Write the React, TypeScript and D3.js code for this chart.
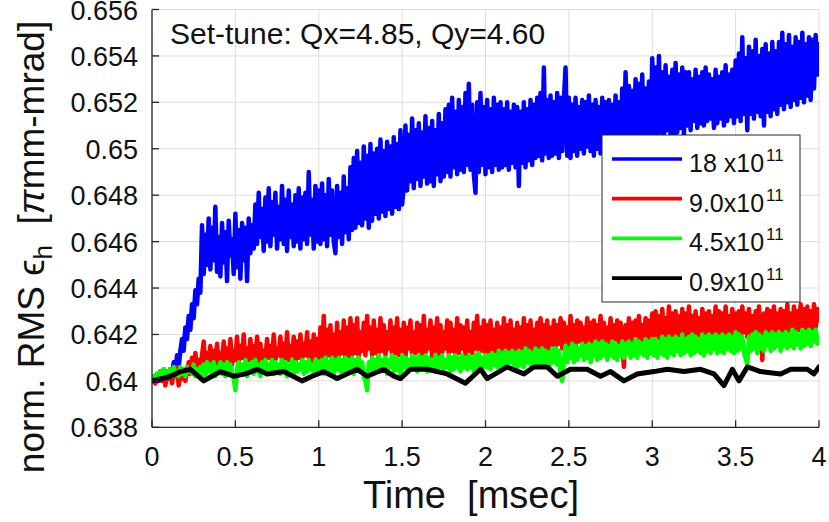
import React from 'react';
import * as d3 from 'd3';

// Emittance growth of the normalised horizontal RMS emittance vs. time
const T_MAX = 4;
const xTicks = [0, 0.5, 1, 1.5, 2, 2.5, 3, 3.5, 4];
const xTickLabels = ['0', '0.5', '1', '1.5', '2', '2.5', '3', '3.5', '4'];
const yTicks = [0.638, 0.64, 0.642, 0.644, 0.646, 0.648, 0.65, 0.652, 0.654, 0.656];
const yTickLabels = ['0.638', '0.64', '0.642', '0.644', '0.646', '0.648', '0.65', '0.652', '0.654', '0.656'];

const titleText = 'Set-tune: Qx=4.85, Qy=4.60';
const xLabel = 'Time  [msec]';

const legendMantissas = ['18 x10', '9.0x10', '4.5x10', '0.9x10'];
const legendExponent = '11';
const seriesColors = ['#0000ff', '#ff0000', '#00ff00', '#000000'];

// Intensity 18x10^11, sampled every 0.01 msec
const blueValues = [
  0.6400, 0.6402, 0.6399, 0.6403, 0.6400, 0.6404, 0.6401, 0.6403, 0.6399, 0.6404, 0.6401, 0.6405, 0.6402,
  0.6408, 0.6403, 0.6411, 0.6406, 0.6413,
  0.6418, 0.6413, 0.6423, 0.6418, 0.6428, 0.6422, 0.6433, 0.6427, 0.6439, 0.6433, 0.6444, 0.6438,
  0.6467, 0.6446, 0.6463, 0.6450, 0.6470, 0.6448, 0.6466, 0.6452, 0.6475, 0.6447,
  0.6462, 0.6445, 0.6468, 0.6451, 0.6464, 0.6443, 0.6469, 0.6454, 0.6461, 0.6446,
  0.6472, 0.6449, 0.6465, 0.6444, 0.6468, 0.6452, 0.6466, 0.6443, 0.6470, 0.6455, 0.6467,
  0.6457, 0.6476, 0.6459, 0.6481, 0.6462, 0.6474, 0.6456, 0.6479, 0.6460, 0.6483,
  0.6458, 0.6477, 0.6463, 0.6481, 0.6457, 0.6475, 0.6461, 0.6484, 0.6459, 0.6478,
  0.6456, 0.6482, 0.6462, 0.6476, 0.6458, 0.6480, 0.6460, 0.6483, 0.6457, 0.6479,
  0.6461, 0.6481, 0.6459, 0.6490, 0.6463, 0.6478, 0.6457, 0.6484, 0.6460, 0.6482,
  0.6459, 0.6485, 0.6461, 0.6480, 0.6458, 0.6487, 0.6463, 0.6482, 0.6460, 0.6455,
  0.6484, 0.6462, 0.6481, 0.6459, 0.6488, 0.6464, 0.6483, 0.6461, 0.6492, 0.6465,
  0.6496, 0.6466, 0.6499, 0.6468, 0.6494, 0.6467, 0.6501, 0.6470, 0.6497, 0.6466,
  0.6502, 0.6469, 0.6498, 0.6472, 0.6500, 0.6470, 0.6504, 0.6473, 0.6499, 0.6471,
  0.6503, 0.6474, 0.6501, 0.6472, 0.6505, 0.6475, 0.6502, 0.6474, 0.6508, 0.6476,
  0.6484, 0.6510, 0.6482, 0.6506, 0.6486, 0.6513, 0.6483, 0.6508, 0.6487, 0.6511,
  0.6484, 0.6507, 0.6488, 0.6514, 0.6485, 0.6509, 0.6486, 0.6512, 0.6484, 0.6508,
  0.6489, 0.6515, 0.6486, 0.6511, 0.6488,
  0.6517, 0.6490, 0.6519, 0.6488, 0.6522, 0.6492, 0.6516, 0.6489, 0.6521, 0.6491,
  0.6518, 0.6490, 0.6524, 0.6493, 0.6528, 0.6491, 0.6519, 0.6489, 0.6481, 0.6520,
  0.6490, 0.6524, 0.6493, 0.6518, 0.6489, 0.6521, 0.6492, 0.6517, 0.6490, 0.6522,
  0.6493, 0.6519, 0.6491, 0.6520, 0.6492,
  0.6517, 0.6493, 0.6520, 0.6491, 0.6516, 0.6494, 0.6519, 0.6492, 0.6518, 0.6484,
  0.6516, 0.6494, 0.6520, 0.6492, 0.6517, 0.6495, 0.6521, 0.6493, 0.6519, 0.6496,
  0.6522, 0.6497, 0.6524, 0.6495, 0.6535, 0.6498, 0.6521, 0.6496, 0.6523, 0.6497,
  0.6520, 0.6498, 0.6524, 0.6496, 0.6522, 0.6499, 0.6521, 0.6535, 0.6497, 0.6522,
  0.6496, 0.6519, 0.6499, 0.6522, 0.6497, 0.6518, 0.6500, 0.6521, 0.6498, 0.6520,
  0.6501, 0.6523, 0.6499, 0.6519, 0.6497, 0.6521, 0.6500, 0.6518, 0.6498, 0.6522,
  0.6501, 0.6520, 0.6499, 0.6521, 0.6502, 0.6519, 0.6500, 0.6523, 0.6498, 0.6520,
  0.6501, 0.6526, 0.6500, 0.6533, 0.6503, 0.6527, 0.6501, 0.6525, 0.6504, 0.6530,
  0.6502, 0.6528, 0.6500, 0.6532, 0.6503, 0.6526, 0.6505, 0.6529, 0.6502, 0.6539,
  0.6506, 0.6535, 0.6504, 0.6540, 0.6507, 0.6533, 0.6505, 0.6536, 0.6508, 0.6531,
  0.6506, 0.6534, 0.6504, 0.6537, 0.6507, 0.6532, 0.6509, 0.6535, 0.6506, 0.6533,
  0.6510, 0.6533, 0.6508, 0.6530, 0.6512, 0.6534, 0.6509, 0.6531, 0.6511, 0.6533,
  0.6510, 0.6535, 0.6512, 0.6532, 0.6513, 0.6530, 0.6509, 0.6534, 0.6511, 0.6531,
  0.6513, 0.6533, 0.6510, 0.6536, 0.6512, 0.6532, 0.6514, 0.6534, 0.6511, 0.6538,
  0.6514, 0.6541, 0.6512, 0.6548, 0.6515, 0.6539, 0.6508, 0.6544, 0.6515, 0.6542,
  0.6513, 0.6547, 0.6516, 0.6540, 0.6514, 0.6543, 0.6510, 0.6545, 0.6516, 0.6541,
  0.6514, 0.6546, 0.6517, 0.6542, 0.6515,
  0.6546, 0.6519, 0.6550, 0.6517, 0.6545, 0.6520, 0.6549, 0.6518, 0.6544, 0.6521,
  0.6548, 0.6519, 0.6546, 0.6522, 0.6550, 0.6520, 0.6545, 0.6523, 0.6548, 0.6521,
  0.6547, 0.6526, 0.6549, 0.6532, 0.6545,
];

// Intensity 9.0x10^11, sampled every 0.01 msec
const redValues = [
  0.6400, 0.6402, 0.6399, 0.6403, 0.6401, 0.6404, 0.6400, 0.6405, 0.6398, 0.6403,
  0.6401, 0.6405, 0.6399, 0.6404, 0.6402, 0.6406, 0.6398, 0.6403, 0.6401, 0.6405, 0.6400,
  0.6404, 0.6408, 0.6403, 0.6410, 0.6405, 0.6412, 0.6406, 0.6409, 0.6405, 0.6411,
  0.6417, 0.6406, 0.6412, 0.6407, 0.6415, 0.6405, 0.6413, 0.6408, 0.6416, 0.6406,
  0.6412, 0.6409, 0.6417, 0.6407, 0.6414, 0.6408, 0.6418, 0.6407, 0.6413, 0.6409,
  0.6419, 0.6408, 0.6415, 0.6410, 0.6420, 0.6407, 0.6414, 0.6409, 0.6418, 0.6408,
  0.6415, 0.6410, 0.6419, 0.6408, 0.6416, 0.6407, 0.6413, 0.6409, 0.6418, 0.6410,
  0.6415, 0.6408, 0.6420, 0.6409, 0.6414, 0.6411, 0.6419, 0.6408, 0.6416, 0.6410,
  0.6421, 0.6409, 0.6415, 0.6411, 0.6419, 0.6408, 0.6417, 0.6410, 0.6420, 0.6409,
  0.6416, 0.6411, 0.6421, 0.6410, 0.6417, 0.6408, 0.6420, 0.6411, 0.6418, 0.6410,
  0.6423, 0.6410, 0.6428, 0.6408, 0.6422, 0.6411, 0.6424, 0.6407, 0.6420, 0.6410,
  0.6425, 0.6409, 0.6421, 0.6412, 0.6426, 0.6410, 0.6423, 0.6409, 0.6427, 0.6411,
  0.6424, 0.6412, 0.6427, 0.6410, 0.6421, 0.6413, 0.6425, 0.6411, 0.6428, 0.6414,
  0.6423, 0.6411, 0.6426, 0.6412, 0.6422, 0.6410, 0.6427, 0.6413, 0.6424, 0.6411,
  0.6421, 0.6414, 0.6426, 0.6410, 0.6423, 0.6412, 0.6427, 0.6411, 0.6422, 0.6413,
  0.6425, 0.6410, 0.6423, 0.6414, 0.6426, 0.6411, 0.6421, 0.6412, 0.6425, 0.6413,
  0.6424, 0.6411, 0.6428, 0.6412, 0.6422, 0.6414, 0.6426, 0.6410, 0.6423, 0.6413,
  0.6427, 0.6411, 0.6424, 0.6412, 0.6421, 0.6414, 0.6426, 0.6411, 0.6425, 0.6413,
  0.6422, 0.6410, 0.6427, 0.6412, 0.6424, 0.6414, 0.6423, 0.6411, 0.6426, 0.6413,
  0.6421, 0.6412, 0.6425, 0.6414, 0.6428, 0.6411, 0.6423, 0.6413, 0.6426, 0.6412,
  0.6424, 0.6411, 0.6426, 0.6413, 0.6422, 0.6412, 0.6425, 0.6414, 0.6423, 0.6411,
  0.6427, 0.6413, 0.6424, 0.6412, 0.6426, 0.6414, 0.6422, 0.6413, 0.6425, 0.6412,
  0.6423, 0.6414, 0.6427, 0.6411, 0.6424, 0.6413, 0.6426, 0.6412, 0.6422, 0.6414,
  0.6425, 0.6413, 0.6427, 0.6415, 0.6424, 0.6412, 0.6426, 0.6414, 0.6423, 0.6415,
  0.6426, 0.6414, 0.6424, 0.6416, 0.6427, 0.6414, 0.6425, 0.6417, 0.6423, 0.6415,
  0.6428, 0.6416, 0.6424, 0.6414, 0.6426, 0.6417, 0.6425, 0.6415, 0.6423, 0.6416,
  0.6427, 0.6414, 0.6425, 0.6417, 0.6426, 0.6415, 0.6424, 0.6416, 0.6428, 0.6414,
  0.6425, 0.6417, 0.6423, 0.6415, 0.6427, 0.6416, 0.6424, 0.6418, 0.6426, 0.6415,
  0.6425, 0.6417, 0.6406, 0.6424, 0.6416, 0.6427, 0.6415, 0.6425, 0.6418, 0.6426,
  0.6416, 0.6428, 0.6417, 0.6424, 0.6418, 0.6427, 0.6415, 0.6426, 0.6418, 0.6429,
  0.6417, 0.6430, 0.6418, 0.6428, 0.6416, 0.6431, 0.6419, 0.6427, 0.6417, 0.6432,
  0.6418, 0.6429, 0.6416, 0.6430, 0.6419, 0.6428, 0.6417, 0.6431, 0.6418, 0.6429,
  0.6420, 0.6432, 0.6417, 0.6428, 0.6419, 0.6430, 0.6418, 0.6427, 0.6420, 0.6431,
  0.6418, 0.6429, 0.6417, 0.6430, 0.6419, 0.6428, 0.6420, 0.6432, 0.6418, 0.6430,
  0.6421, 0.6429, 0.6419, 0.6432, 0.6420, 0.6428, 0.6418, 0.6431, 0.6419, 0.6429,
  0.6420, 0.6430, 0.6418, 0.6432, 0.6421, 0.6429, 0.6419, 0.6431, 0.6420, 0.6428,
  0.6421, 0.6430, 0.6419, 0.6432, 0.6420, 0.6409, 0.6429, 0.6421, 0.6431, 0.6419,
  0.6430, 0.6422, 0.6432, 0.6420, 0.6429, 0.6421, 0.6431, 0.6419, 0.6430, 0.6422,
  0.6433, 0.6420, 0.6429, 0.6421, 0.6432, 0.6419, 0.6430, 0.6422, 0.6433, 0.6420,
  0.6431, 0.6421, 0.6432, 0.6422, 0.6430, 0.6421, 0.6433, 0.6423, 0.6431, 0.6426,
];

// Intensity 4.5x10^11, sampled every 0.01 msec
const greenValues = [
  0.6400, 0.6402, 0.6401, 0.6403, 0.6402, 0.6404, 0.6401, 0.6405, 0.6402, 0.6404,
  0.6403, 0.6405, 0.6402, 0.6406, 0.6403, 0.6404, 0.6402, 0.6406, 0.6403, 0.6405,
  0.6402, 0.6406, 0.6404, 0.6405, 0.6403, 0.6407, 0.6402, 0.6405, 0.6404, 0.6406, 0.6403,
  0.6407, 0.6402, 0.6408, 0.6404, 0.6407, 0.6403, 0.6408, 0.6402, 0.6406, 0.6404,
  0.6408, 0.6403, 0.6407, 0.6402, 0.6408, 0.6404, 0.6407, 0.6403, 0.6401, 0.6396,
  0.6405, 0.6408, 0.6403, 0.6407, 0.6404, 0.6409, 0.6402, 0.6407, 0.6404, 0.6408,
  0.6403, 0.6409, 0.6404, 0.6407, 0.6402, 0.6408, 0.6405, 0.6409, 0.6403, 0.6407,
  0.6404, 0.6409, 0.6403, 0.6408, 0.6405, 0.6407, 0.6403, 0.6409, 0.6404, 0.6408,
  0.6402, 0.6407, 0.6405, 0.6409, 0.6403, 0.6408, 0.6404, 0.6407, 0.6405, 0.6409,
  0.6403, 0.6408, 0.6404, 0.6409, 0.6405, 0.6407, 0.6403, 0.6409, 0.6404, 0.6408,
  0.6404, 0.6409, 0.6403, 0.6410, 0.6405, 0.6408, 0.6404, 0.6410, 0.6403, 0.6409,
  0.6405, 0.6410, 0.6404, 0.6409, 0.6403, 0.6410, 0.6405, 0.6409, 0.6404, 0.6410,
  0.6403, 0.6409, 0.6405, 0.6410, 0.6404, 0.6408, 0.6402, 0.6400, 0.6396, 0.6408,
  0.6405, 0.6410, 0.6404, 0.6409, 0.6406, 0.6411, 0.6404, 0.6409, 0.6405, 0.6410,
  0.6403, 0.6409, 0.6406, 0.6411, 0.6404, 0.6410, 0.6405, 0.6409, 0.6403, 0.6411,
  0.6406, 0.6410, 0.6404, 0.6409, 0.6405, 0.6411, 0.6406, 0.6410, 0.6404, 0.6411,
  0.6406, 0.6410, 0.6405, 0.6411, 0.6404, 0.6410, 0.6406, 0.6409, 0.6405, 0.6411,
  0.6404, 0.6410, 0.6406, 0.6411, 0.6405, 0.6409, 0.6406, 0.6411, 0.6404, 0.6410,
  0.6405, 0.6411, 0.6406, 0.6410, 0.6404, 0.6411, 0.6406, 0.6410, 0.6405, 0.6411,
  0.6406, 0.6410, 0.6404, 0.6411, 0.6406, 0.6412, 0.6405, 0.6410, 0.6406, 0.6411,
  0.6406, 0.6411, 0.6405, 0.6412, 0.6407, 0.6411, 0.6406, 0.6413, 0.6405, 0.6412,
  0.6407, 0.6413, 0.6406, 0.6412, 0.6408, 0.6413, 0.6407, 0.6412, 0.6406, 0.6413,
  0.6407, 0.6412, 0.6406, 0.6414, 0.6408, 0.6413, 0.6407, 0.6412, 0.6408, 0.6414,
  0.6406, 0.6413, 0.6408, 0.6414, 0.6407, 0.6413, 0.6408, 0.6412, 0.6407, 0.6414,
  0.6408, 0.6414, 0.6407, 0.6413, 0.6402, 0.6400, 0.6409, 0.6415, 0.6408, 0.6414,
  0.6410, 0.6416, 0.6408, 0.6415, 0.6409, 0.6414, 0.6411, 0.6416, 0.6409, 0.6415,
  0.6410, 0.6416, 0.6408, 0.6415, 0.6411, 0.6417, 0.6409, 0.6416, 0.6410, 0.6417,
  0.6411, 0.6416, 0.6409, 0.6415, 0.6411, 0.6417, 0.6410, 0.6416, 0.6409, 0.6415,
  0.6411, 0.6417, 0.6410, 0.6416, 0.6412, 0.6417, 0.6410, 0.6416, 0.6411, 0.6418,
  0.6410, 0.6417, 0.6412, 0.6416, 0.6411, 0.6418, 0.6410, 0.6417, 0.6412, 0.6418,
  0.6411, 0.6418, 0.6410, 0.6417, 0.6412, 0.6419, 0.6411, 0.6418, 0.6410, 0.6419,
  0.6412, 0.6418, 0.6411, 0.6419, 0.6413, 0.6418, 0.6411, 0.6420, 0.6412, 0.6418,
  0.6413, 0.6419, 0.6411, 0.6420, 0.6412, 0.6419, 0.6413, 0.6418, 0.6412, 0.6420,
  0.6411, 0.6419, 0.6413, 0.6420, 0.6412, 0.6419, 0.6414, 0.6420, 0.6412, 0.6419,
  0.6413, 0.6420, 0.6412, 0.6419, 0.6414, 0.6420, 0.6413, 0.6419, 0.6412, 0.6421,
  0.6413, 0.6420, 0.6414, 0.6419, 0.6412, 0.6410, 0.6407, 0.6419, 0.6413, 0.6420,
  0.6414, 0.6421, 0.6412, 0.6420, 0.6414, 0.6419, 0.6413, 0.6421, 0.6415, 0.6420,
  0.6413, 0.6421, 0.6414, 0.6420, 0.6415, 0.6421, 0.6413, 0.6420, 0.6415, 0.6421,
  0.6414, 0.6420, 0.6415, 0.6422, 0.6414, 0.6421, 0.6416, 0.6420, 0.6414, 0.6422,
  0.6415, 0.6421, 0.6416, 0.6422, 0.6415, 0.6421, 0.6417, 0.6422, 0.6416, 0.6419,
];

// Intensity 0.9x10^11 (smooth trace, irregular sample times)
const blackTimes = [
  0, 0.06, 0.11, 0.17, 0.23, 0.31, 0.36, 0.41, 0.49, 0.56, 0.63, 0.69, 0.79, 0.9, 0.96,
  1.03, 1.11, 1.23, 1.29, 1.39, 1.45, 1.49, 1.55, 1.65, 1.77, 1.88, 1.97, 2.01, 2.13, 2.23,
  2.29, 2.37, 2.43, 2.51, 2.61, 2.69, 2.75, 2.83, 2.91, 3.01, 3.09, 3.19, 3.29, 3.37, 3.43,
  3.48, 3.52, 3.57, 3.65, 3.77, 3.83, 3.93, 3.97, 4.0,
];
const blackValues = [
  0.6400, 0.6401, 0.6402, 0.6404, 0.6405, 0.6400, 0.6402, 0.6404, 0.6402, 0.6403, 0.6405, 0.6403, 0.6404, 0.6400, 0.6402,
  0.6404, 0.6401, 0.6405, 0.6402, 0.6405, 0.6402, 0.6401, 0.6405, 0.6405, 0.6403, 0.6399, 0.6405, 0.6401, 0.6406, 0.6403,
  0.6406, 0.6406, 0.6402, 0.6405, 0.6405, 0.6402, 0.6404, 0.6400, 0.6403, 0.6404, 0.6405, 0.6404, 0.6405, 0.6403, 0.6398,
  0.6405, 0.6400, 0.6406, 0.6404, 0.6403, 0.6405, 0.6405, 0.6403, 0.6406,
];

const W = 829;
const H = 522;
const M = { left: 152, right: 819, top: 9.5, bottom: 427.3 };
const FONT = '"Liberation Sans", Arial, Helvetica, sans-serif';

type Pt = [number, number];

function uniformSeries(values: number[]): Pt[] {
  return values.map((v, i) => [(i * T_MAX) / (values.length - 1), v]);
}

export default function App() {
  const x = d3.scaleLinear().domain([0, T_MAX]).range([M.left, M.right]);
  const y = d3.scaleLinear().domain([0.638, 0.656]).range([M.bottom, M.top]);
  const line = d3
    .line<Pt>()
    .x((d) => x(d[0]))
    .y((d) => y(d[1]));

  const series: { pts: Pt[]; color: string; width: number }[] = [
    { pts: uniformSeries(blueValues), color: seriesColors[0], width: 4.5 },
    { pts: uniformSeries(redValues), color: seriesColors[1], width: 4.5 },
    { pts: uniformSeries(greenValues), color: seriesColors[2], width: 4.5 },
    { pts: blackTimes.map((t, i) => [t, blackValues[i]] as Pt), color: seriesColors[3], width: 5 },
  ];

  const legend = { x0: 602, y0: 135, w: 198, h: 167, rowY: 159, rowStep: 39.7 };

  return (
    <svg
      width={W}
      height={H}
      viewBox={`0 0 ${W} ${H}`}
      style={{ position: 'absolute', left: 0, top: 0, background: '#fff' }}
      fontFamily={FONT}
    >
      <defs>
        <clipPath id="plot-area">
          <rect x={M.left} y={M.top} width={M.right - M.left} height={M.bottom - M.top} />
        </clipPath>
      </defs>
      <rect x={0} y={0} width={W} height={H} fill="#fff" />

      {/* grid */}
      <g stroke="#dcdcdc" strokeWidth={1}>
        {xTicks.map((t) => (
          <line key={`gx${t}`} x1={x(t)} x2={x(t)} y1={M.top} y2={M.bottom} />
        ))}
        {yTicks.map((t) => (
          <line key={`gy${t}`} x1={M.left} x2={M.right} y1={y(t)} y2={y(t)} />
        ))}
      </g>

      {/* data traces */}
      <g clipPath="url(#plot-area)" fill="none" strokeLinejoin="round" strokeLinecap="round">
        {series.map((s, i) => (
          <path key={i} d={line(s.pts) || ''} stroke={s.color} strokeWidth={s.width} />
        ))}
      </g>

      {/* axes */}
      <g stroke="#262626" strokeWidth={1.3}>
        <line x1={M.left} x2={M.left} y1={M.top} y2={M.bottom} />
        <line x1={M.left} x2={M.right} y1={M.bottom} y2={M.bottom} />
        {xTicks.map((t) => (
          <line key={`tx${t}`} x1={x(t)} x2={x(t)} y1={M.bottom} y2={M.bottom - 7} />
        ))}
        {yTicks.map((t) => (
          <line key={`ty${t}`} x1={M.left} x2={M.left + 7} y1={y(t)} y2={y(t)} />
        ))}
      </g>

      <g fontSize={27} fill="#111">
        {xTicks.map((t, i) => (
          <text key={`lx${t}`} x={x(t)} y={466} textAnchor="middle">
            {xTickLabels[i]}
          </text>
        ))}
        {yTicks.map((t, i) => (
          <text key={`ly${t}`} x={138} y={y(t) + 10} textAnchor="end">
            {yTickLabels[i]}
          </text>
        ))}
      </g>

      <text x={471} y={508} fontSize={38} textAnchor="middle" fill="#111" xmlSpace="preserve">
        {xLabel}
      </text>

      <text
        transform={`translate(44, 247) rotate(-90)`}
        fontSize={37}
        textAnchor="middle"
        fill="#111"
        xmlSpace="preserve"
      >
        norm. RMS ϵ
        <tspan fontSize={26} dy={8}>h</tspan>
        <tspan dy={-8}>{'  ['}</tspan>
        <tspan fontStyle="italic">π</tspan>
        <tspan>mm-mrad]</tspan>
      </text>

      <text x={170} y={44} fontSize={30} fill="#111">
        {titleText}
      </text>

      {/* legend */}
      <g>
        <rect x={legend.x0} y={legend.y0} width={legend.w} height={legend.h} fill="#fff" stroke="#262626" strokeWidth={1} />
        {legendMantissas.map((m, i) => {
          const ry = legend.rowY + i * legend.rowStep;
          return (
            <g key={m}>
              <line x1={612} x2={682} y1={ry} y2={ry} stroke={seriesColors[i]} strokeWidth={3.7} />
              <text x={689} y={ry + 13} fontSize={25} fill="#111" xmlSpace="preserve">
                {m}
                <tspan fontSize={17} dx={2} dy={-11}>{legendExponent}</tspan>
              </text>
            </g>
          );
        })}
      </g>
    </svg>
  );
}
